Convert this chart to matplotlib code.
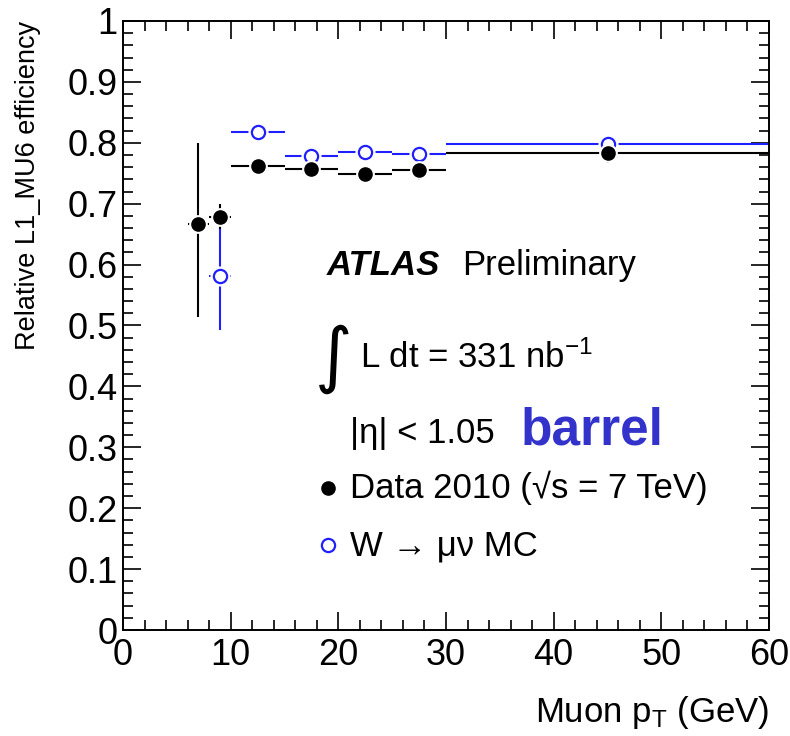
import numpy as np
import matplotlib
matplotlib.use('Agg')
import matplotlib.pyplot as plt
from matplotlib.ticker import MultipleLocator, FormatStrFormatter

plt.rcParams['font.family'] = ['Liberation Sans', 'DejaVu Sans']
plt.rcParams['mathtext.fontset'] = 'custom'
plt.rcParams['mathtext.rm'] = 'Liberation Sans'
plt.rcParams['mathtext.it'] = 'Liberation Sans:italic'

# data 2010
data_pt = [7.0, 9.0, 12.5, 17.5, 22.5, 27.5, 45.0]
data_pt_err = [1.0, 1.0, 2.5, 2.5, 2.5, 2.5, 15.0]
data_eff = [0.667, 0.678, 0.762, 0.757, 0.748, 0.756, 0.783]
data_err_lo = [0.153, 0.020, 0.012, 0.012, 0.012, 0.017, 0.016]
data_err_hi = [0.133, 0.022, 0.008, 0.008, 0.008, 0.008, 0.006]

# W -> mu nu MC
mc_pt = [9.0, 12.5, 17.5, 22.5, 27.5, 45.0]
mc_pt_err = [1.0, 2.5, 2.5, 2.5, 2.5, 15.0]
mc_eff = [0.581, 0.817, 0.778, 0.785, 0.782, 0.798]
mc_err_lo = [0.088, 0.005, 0.005, 0.005, 0.005, 0.004]
mc_err_hi = [0.084, 0.005, 0.005, 0.005, 0.005, 0.004]

blue = '#1f1fff'

fig = plt.figure(figsize=(7.9, 7.36), dpi=100)
ax = fig.add_axes([123 / 790, 106 / 736, 646 / 790, 609 / 736])

ms = 9.5

# MC first (data drawn on top)
ax.errorbar(mc_pt, mc_eff, xerr=mc_pt_err, yerr=[mc_err_lo, mc_err_hi],
            fmt='none', ecolor=blue, elinewidth=1.5, capsize=0, zorder=2)
ax.plot(mc_pt, mc_eff, 'o', ms=ms + 4, mfc='white', mec='white', zorder=3)
ax.plot(mc_pt, mc_eff, 'o', ms=ms, mfc='white', mec=blue, mew=1.6, zorder=4)

ax.errorbar(data_pt, data_eff, xerr=data_pt_err, yerr=[data_err_lo, data_err_hi],
            fmt='none', ecolor='black', elinewidth=1.5, capsize=0, zorder=5)
ax.plot(data_pt, data_eff, 'o', ms=ms + 3, mfc='white', mec='white', zorder=6)
ax.plot(data_pt, data_eff, 'o', ms=ms, mfc='black', mec='black', zorder=7)

ax.set_xlim(0, 60)
ax.set_ylim(0, 1)
ax.xaxis.set_major_locator(MultipleLocator(10))
ax.xaxis.set_minor_locator(MultipleLocator(2))
ax.yaxis.set_major_locator(MultipleLocator(0.1))
ax.yaxis.set_minor_locator(MultipleLocator(0.02))
ax.yaxis.set_major_formatter(FormatStrFormatter('%g'))
ax.xaxis.set_major_formatter(FormatStrFormatter('%g'))

ax.tick_params(which='both', direction='in', top=True, right=True, width=1.2)
ax.tick_params(which='major', length=13, labelsize=26)
ax.tick_params(axis='x', which='major', pad=6)
ax.tick_params(axis='y', which='major', pad=4)
ax.tick_params(which='minor', length=7)
for s in ax.spines.values():
    s.set_linewidth(1.4)

ax.set_xlabel(r'Muon p$_{\mathregular{T}}$ (GeV)', fontsize=25, ha='right', x=1.0)
ax.set_ylabel('Relative L1_MU6 efficiency', fontsize=19.5,
              ha='right', va='center', y=1.0)
ax.xaxis.set_label_coords(1.0, -0.105)
ax.yaxis.set_label_coords(-0.147, 1.0)

# annotations
tr = ax.transAxes
ax.text(0.316, 0.583, 'ATLAS', transform=tr, fontsize=25, fontweight='bold',
        fontstyle='italic', va='baseline')
ax.text(0.525, 0.583, 'Preliminary', transform=tr, fontsize=25, va='baseline')
ax.text(0.297, 0.445, '\u222b', transform=tr, fontsize=52, va='center',
        family='DejaVu Sans')
ax.text(0.367, 0.430, r'L dt = 331 nb$^{\mathregular{-1}}$', transform=tr,
        fontsize=25, va='baseline')
ax.text(0.351, 0.307, '|\u03b7| < 1.05', transform=tr, fontsize=25, va='baseline')
ax.text(0.615, 0.304, 'barrel', transform=tr, fontsize=37, fontweight='bold',
        color='#3333cc', va='baseline')

ax.plot([0.317], [0.233], 'o', ms=ms, mfc='black', mec='black',
        transform=tr, clip_on=False)
ax.text(0.351, 0.217, 'Data 2010 (\u221as = 7 TeV)', transform=tr, fontsize=25,
        va='baseline')
ax.plot([0.317], [0.140], 'o', ms=ms, mfc='white', mec=blue, mew=1.6,
        transform=tr, clip_on=False)
ax.text(0.351, 0.123, 'W \u2192 \u03bc\u03bd MC',
        transform=tr, fontsize=25, va='baseline')

fig.savefig('out.png', dpi=100)
